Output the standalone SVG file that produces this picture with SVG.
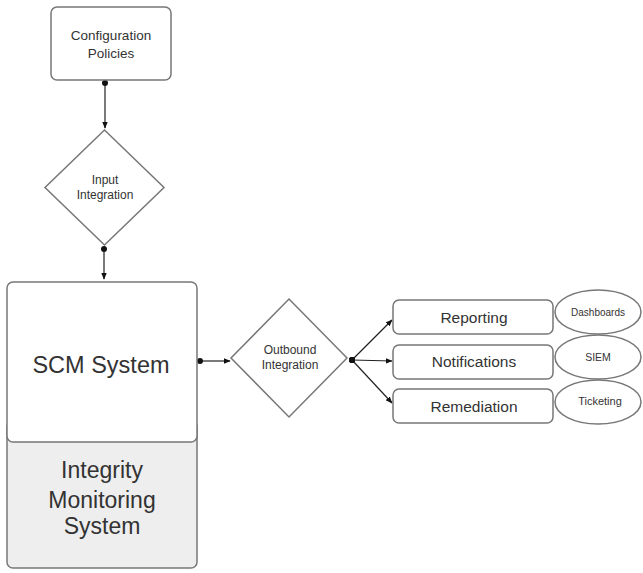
<svg xmlns="http://www.w3.org/2000/svg" width="643" height="573" viewBox="0 0 643 573">
  <defs>
    <style>
      .shape { fill: #fff; stroke: #777; stroke-width: 1.5; }
      .gray { fill: #eeeeee; }
      .lbl { font-family: "Liberation Sans", Arial, sans-serif; fill: #333; text-anchor: middle; }
      .edge { stroke: #222; stroke-width: 1.2; fill: none; marker-start: url(#dot); marker-end: url(#arrow); }
    </style>
    <marker id="arrow" viewBox="0 0 10 10" refX="9" refY="5" markerWidth="7" markerHeight="7" markerUnits="userSpaceOnUse" orient="auto">
      <path d="M0,1 L10,5 L0,9 Z" fill="#111"/>
    </marker>
    <marker id="dot" viewBox="0 0 10 10" refX="5" refY="5" markerWidth="6" markerHeight="6" markerUnits="userSpaceOnUse">
      <circle cx="5" cy="5" r="5" fill="#111"/>
    </marker>
  </defs>

  <g id="edges">
    <path class="edge" d="M105,83 L105,128"/>
    <path class="edge" d="M104,249 L104,279"/>
    <path class="edge" d="M200,361 L230,361"/>
    <path class="edge" d="M352,360 L392,320"/>
    <path class="edge" d="M352,360 L392,361"/>
    <path class="edge" d="M352,360 L392,403"/>
  </g>

  <g id="config-policies">
    <rect class="shape" x="51" y="7" width="120" height="73" rx="6"/>
    <text class="lbl" x="111" y="40" font-size="13.5">Configuration</text>
    <text class="lbl" x="111" y="58" font-size="13.5">Policies</text>
  </g>

  <g id="input-integration">
    <polygon class="shape" points="104.5,130 164,187.5 104.5,245 45,187.5"/>
    <text class="lbl" x="105" y="184" font-size="12">Input</text>
    <text class="lbl" x="105" y="199" font-size="12">Integration</text>
  </g>

  <g id="integrity-monitoring">
    <rect class="shape gray" x="7" y="420" width="190" height="148" rx="6"/>
    <text class="lbl" x="102" y="478" font-size="23">Integrity</text>
    <text class="lbl" x="102" y="508" font-size="23">Monitoring</text>
    <text class="lbl" x="102" y="534" font-size="23">System</text>
  </g>

  <g id="scm-system">
    <rect class="shape" x="7" y="282" width="190" height="160" rx="6"/>
    <text class="lbl" x="101" y="373" font-size="23.5">SCM System</text>
  </g>

  <g id="outbound-integration">
    <polygon class="shape" points="289,299 347,358 289,417 231,358"/>
    <text class="lbl" x="290" y="354" font-size="12">Outbound</text>
    <text class="lbl" x="290" y="369" font-size="12">Integration</text>
  </g>

  <g id="dashboards">
    <ellipse class="shape" cx="598" cy="312" rx="43" ry="22"/>
    <text class="lbl" x="598" y="316" font-size="10">Dashboards</text>
  </g>
  <g id="siem">
    <ellipse class="shape" cx="598" cy="357" rx="43" ry="22"/>
    <text class="lbl" x="598" y="361" font-size="10.5">SIEM</text>
  </g>
  <g id="ticketing">
    <ellipse class="shape" cx="598" cy="402" rx="43" ry="22"/>
    <text class="lbl" x="600" y="405" font-size="11">Ticketing</text>
  </g>

  <g id="reporting">
    <rect class="shape" x="393" y="300" width="160" height="34" rx="6"/>
    <text class="lbl" x="474" y="323" font-size="15.5">Reporting</text>
  </g>
  <g id="notifications">
    <rect class="shape" x="393" y="345" width="160" height="34" rx="6"/>
    <text class="lbl" x="474" y="367" font-size="15.5">Notifications</text>
  </g>
  <g id="remediation">
    <rect class="shape" x="393" y="389" width="160" height="34" rx="6"/>
    <text class="lbl" x="474" y="412" font-size="15.5">Remediation</text>
  </g>
</svg>
